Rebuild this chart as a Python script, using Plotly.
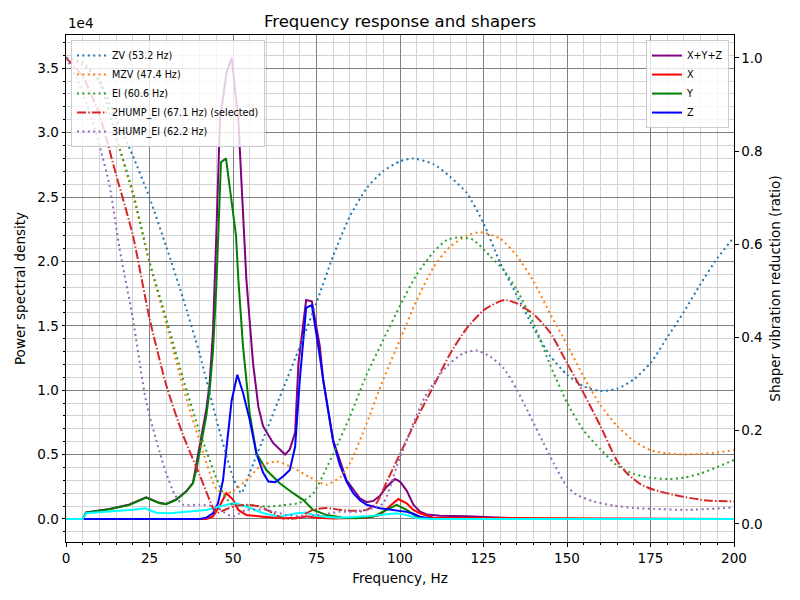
import plotly.graph_objects as go

# ---------------- data ----------------
# PSD curves, values in units of 1e4
xyz_freq = [0, 5, 6, 13, 19, 24, 28, 30, 33, 36, 38, 40, 42, 43, 44, 45, 46.1, 48.1, 49.6, 51.6, 54, 56, 57.6,
            59, 62, 65.6, 67, 68.6, 69.6, 71.9, 73.6, 76, 77, 80, 84, 88, 90, 92, 94, 96, 98.5, 100, 102, 104,
            106, 108, 112, 120, 130, 140, 200]
xyz_val = [0, 0, 0.05, 0.077, 0.112, 0.168, 0.125, 0.117, 0.151, 0.215, 0.28, 0.58, 0.85, 1.05, 1.45, 2.2, 3.1,
           3.47, 3.58, 3.1, 1.86, 1.21, 0.87, 0.72, 0.59, 0.50, 0.54, 0.67, 1.21, 1.70, 1.69, 1.34, 1.08, 0.61,
           0.30, 0.16, 0.13, 0.14, 0.18, 0.25, 0.31, 0.29, 0.22, 0.11, 0.057, 0.035, 0.025, 0.02, 0.01, 0, 0]

x_freq = [0, 5, 42, 44, 46, 48, 50, 51.6, 54, 59, 65, 70, 72, 75, 80, 90, 94, 97, 99.5, 102, 104, 106, 110, 200]
x_val = [0, 0, 0, 0.02, 0.1, 0.2, 0.15, 0.07, 0.03, 0.018, 0.005, 0.01, 0.02, 0.01, 0.003, 0.01, 0.03, 0.1,
         0.155, 0.122, 0.07, 0.044, 0.01, 0]

y_freq = [0, 5, 6, 13, 19, 24, 28, 30, 33, 36, 38, 39, 40, 42, 43, 44, 45, 46.4, 47.9, 50.9, 51.6, 53, 55, 57,
          60, 64, 68, 71, 74, 78, 83, 87, 92, 96, 99, 102, 105, 110, 200]
y_val = [0, 0, 0.049, 0.075, 0.109, 0.165, 0.122, 0.114, 0.148, 0.212, 0.277, 0.38, 0.52, 0.8, 1.0, 1.3, 1.8,
         2.77, 2.80, 2.2, 1.86, 1.34, 0.82, 0.51, 0.38, 0.277, 0.2, 0.148, 0.07, 0.031, 0.01, 0.005, 0.018,
         0.07, 0.109, 0.07, 0.018, 0, 0]

z_freq = [0, 40, 42, 44, 45.5, 47, 49.6, 51.3, 53, 55, 57, 59, 60.6, 62.6, 65, 67, 68.6, 70, 71.9, 73.6, 76,
          77, 80, 82, 84, 86, 88, 90, 94, 98, 102, 104, 106, 110, 200]
z_val = [0, 0, 0.01, 0.044, 0.12, 0.30, 0.92, 1.12, 0.98, 0.77, 0.51, 0.36, 0.29, 0.285, 0.33, 0.38, 0.56,
         1.08, 1.64, 1.66, 1.26, 1.08, 0.60, 0.42, 0.29, 0.20, 0.145, 0.11, 0.083, 0.07, 0.055, 0.04, 0.018, 0, 0]

after_freq = [0, 5, 6, 13, 19, 23.7, 27, 31, 38, 42, 46, 50, 51, 54, 59, 64, 69, 72, 74, 78, 82, 90, 94, 99,
              102, 105, 110, 200]
after_val = [0, 0, 0.044, 0.057, 0.07, 0.083, 0.049, 0.044, 0.057, 0.07, 0.096, 0.122, 0.122, 0.096, 0.044,
             0.018, 0.044, 0.05, 0.031, 0.015, 0.01, 0.02, 0.031, 0.044, 0.03, 0.005, 0, 0]

# Shaper vibration reduction ratios
zv_freq = [0, 5, 10, 15, 20, 25, 30, 35, 40, 45, 50, 52.5, 55, 60, 65, 70, 75, 80, 85, 90, 95, 100, 104, 110,
           115, 120, 125, 130, 135, 140, 145, 150, 155, 160, 165, 170, 175, 180, 185, 190, 195, 200]
zv_val = [1.0, 0.985, 0.95, 0.87, 0.79, 0.70, 0.595, 0.485, 0.365, 0.225, 0.10, 0.066, 0.11, 0.20, 0.29, 0.38,
          0.475, 0.575, 0.66, 0.72, 0.757, 0.778, 0.784, 0.772, 0.745, 0.71, 0.645, 0.56, 0.49, 0.42, 0.36,
          0.32, 0.295, 0.285, 0.29, 0.31, 0.345, 0.40, 0.455, 0.515, 0.57, 0.615]

mzv_freq = [0, 5, 10, 15, 20, 25, 30, 35, 40, 45, 47.5, 50, 55, 58, 63, 68, 73, 78, 82, 85, 90, 95, 100, 105,
            110, 115, 120, 124, 130, 135, 140, 145, 150, 155, 160, 165, 170, 175, 180, 185, 190, 195, 200]
mzv_val = [1.0, 0.99, 0.95, 0.83, 0.706, 0.56, 0.43, 0.295, 0.177, 0.075, 0.065, 0.07, 0.10, 0.123, 0.134,
           0.12, 0.10, 0.084, 0.10, 0.13, 0.215, 0.31, 0.395, 0.48, 0.55, 0.595, 0.618, 0.626, 0.612, 0.575,
           0.52, 0.45, 0.385, 0.315, 0.255, 0.21, 0.178, 0.158, 0.151, 0.149, 0.150, 0.153, 0.158]

ei_freq = [0, 5, 10, 15, 20, 25, 30, 35, 40, 45, 47, 50, 55, 60, 65, 70, 74, 78, 80, 85, 90, 95, 100, 105, 110,
           114, 118, 122, 127, 131, 135, 140, 145, 150, 155, 160, 165, 170, 175, 180, 185, 190, 195, 200]
ei_val = [1.0, 0.99, 0.95, 0.83, 0.713, 0.563, 0.441, 0.313, 0.198, 0.098, 0.066, 0.04, 0.04, 0.037, 0.04,
          0.045, 0.065, 0.12, 0.15, 0.23, 0.32, 0.395, 0.468, 0.535, 0.583, 0.609, 0.615, 0.609, 0.574, 0.545,
          0.502, 0.43, 0.34, 0.26, 0.20, 0.16, 0.125, 0.107, 0.099, 0.096, 0.099, 0.108, 0.122, 0.137]

hump2_freq = [0, 5, 10, 15, 20, 25, 30, 35, 40, 44, 45, 47.5, 50, 54, 58, 62, 65, 69, 74, 78, 82, 86, 90, 93,
              96, 100, 105, 110, 115, 120, 125, 130, 132, 135, 140, 145, 150, 155, 160, 165, 168, 172, 176,
              184, 192, 200]
hump2_val = [1.0, 0.96, 0.878, 0.749, 0.62, 0.441, 0.298, 0.191, 0.105, 0.034, 0.023, 0.03, 0.037, 0.041,
             0.037, 0.023, 0.012, 0.012, 0.03, 0.034, 0.03, 0.028, 0.03, 0.045, 0.09, 0.15, 0.225, 0.295, 0.365,
             0.42, 0.458, 0.478, 0.48, 0.473, 0.45, 0.41, 0.345, 0.28, 0.21, 0.135, 0.108, 0.085, 0.073, 0.059,
             0.05, 0.048]

hump3_freq = [0, 3, 7, 10, 13, 16, 20, 24, 28, 30, 32.6, 35, 40, 45, 47, 50, 54, 60, 66, 72, 77, 82, 88, 92, 95,
              98, 99, 104, 108, 114, 119, 123, 127, 131, 135, 138.5, 143, 146, 150, 153, 158, 164, 170, 176,
              186, 200]
hump3_val = [1.0, 0.96, 0.885, 0.813, 0.727, 0.592, 0.441, 0.262, 0.155, 0.109, 0.062, 0.041, 0.041, 0.037,
             0.026, 0.016, 0.03, 0.03, 0.019, 0.016, 0.02, 0.026, 0.026, 0.034, 0.044, 0.1, 0.123, 0.216, 0.28,
             0.338, 0.366, 0.372, 0.359, 0.334, 0.288, 0.238, 0.173, 0.13, 0.08, 0.062, 0.048, 0.039, 0.034,
             0.032, 0.03, 0.035]

psd_names = ["X+Y+Z", "X", "Y", "Z"]
psd_colors = ["purple", "red", "green", "blue"]
shaper_names = ["ZV (53.2 Hz)", "MZV (47.4 Hz)", "EI (60.6 Hz)", "2HUMP_EI (67.1 Hz) (selected)",
                "3HUMP_EI (62.2 Hz)"]
shaper_colors = ["#1f77b4", "#ff7f0e", "#2ca02c", "#d62728", "#9467bd"]

FONT = "DejaVu Sans"
DOT = "2px,3.4px"
DASHDOT = "9px,2.2px,1.4px,2.2px"

fig = go.Figure()

psd_data = [(xyz_freq, xyz_val), (x_freq, x_val), (y_freq, y_val), (z_freq, z_val)]
for (fx, fy), name, col in zip(psd_data, psd_names, psd_colors):
    fig.add_trace(go.Scatter(x=fx, y=fy, name=name, mode="lines", line=dict(color=col, width=2),
                             legend="legend2", yaxis="y"))

fig.add_trace(go.Scatter(x=after_freq, y=after_val, name="After shaper", mode="lines",
                         line=dict(color="cyan", width=2), showlegend=False, yaxis="y"))

shaper_data = [(zv_freq, zv_val), (mzv_freq, mzv_val), (ei_freq, ei_val), (hump2_freq, hump2_val),
               (hump3_freq, hump3_val)]
for i, ((fx, fy), name, col) in enumerate(zip(shaper_data, shaper_names, shaper_colors)):
    dash = DASHDOT if "selected" in name else DOT
    fig.add_trace(go.Scatter(x=fx, y=fy, name=name, mode="lines", yaxis="y2", legend="legend",
                             line=dict(color=col, width=2, dash=dash, shape="spline", smoothing=0.6)))

axis_common = dict(ticks="outside", ticklen=3.5, tickcolor="black", showline=True, linecolor="black",
                   linewidth=1, zeroline=False, tickfont=dict(family=FONT, size=13.5, color="black"))

fig.update_layout(
    width=800, height=600,
    margin=dict(l=66, r=66, t=35, b=58),
    paper_bgcolor="white", plot_bgcolor="white",
    font=dict(family=FONT, color="black"),
    title=dict(text="Frequency response and shapers", x=0.5, xanchor="center", y=1 - 21 / 600,
               yanchor="middle", yref="container", font=dict(family=FONT, size=16.5, color="black")),
    xaxis=dict(range=[0, 200], tick0=0, dtick=25, mirror=True, showgrid=True, gridcolor="grey", gridwidth=0.8,
               minor=dict(dtick=5, showgrid=True, gridcolor="lightgrey", gridwidth=0.8, ticks="outside",
                          ticklen=2, tickcolor="black"),
               title=dict(text="Frequency, Hz", font=dict(family=FONT, size=13.5, color="black"), standoff=8),
               **axis_common),
    yaxis=dict(range=[-0.179, 3.758], tick0=0, dtick=0.5, tickformat=".1f", mirror=True, showgrid=True,
               gridcolor="grey", gridwidth=0.8,
               minor=dict(dtick=0.1, showgrid=True, gridcolor="lightgrey", gridwidth=0.8, ticks="outside",
                          ticklen=2, tickcolor="black"),
               title=dict(text="Power spectral density", font=dict(family=FONT, size=13.5, color="black"),
                          standoff=8),
               **axis_common),
    yaxis2=dict(range=[-0.039, 1.049], tick0=0, dtick=0.2, tickformat=".1f", overlaying="y", side="right",
                showgrid=False,
                title=dict(text="Shaper vibration reduction (ratio)",
                           font=dict(family=FONT, size=13.5, color="black"), standoff=8),
                **axis_common),
    legend=dict(x=0.0075, y=0.99, xanchor="left", yanchor="top", bgcolor="rgba(255,255,255,0.8)",
                bordercolor="#cccccc", borderwidth=1, font=dict(family=FONT, size=9.6, color="black"),
                traceorder="normal"),
    legend2=dict(x=0.9925, y=0.99, xanchor="right", yanchor="top", bgcolor="rgba(255,255,255,0.8)",
                 bordercolor="#cccccc", borderwidth=1, font=dict(family=FONT, size=9.6, color="black"),
                 traceorder="normal"),
    showlegend=True,
)

fig.add_annotation(text="1e4", xref="paper", yref="paper", x=0, y=1, xanchor="left", yanchor="bottom",
                   showarrow=False, font=dict(family=FONT, size=13.5, color="black"), yshift=2)

fig.write_html("out.html")
